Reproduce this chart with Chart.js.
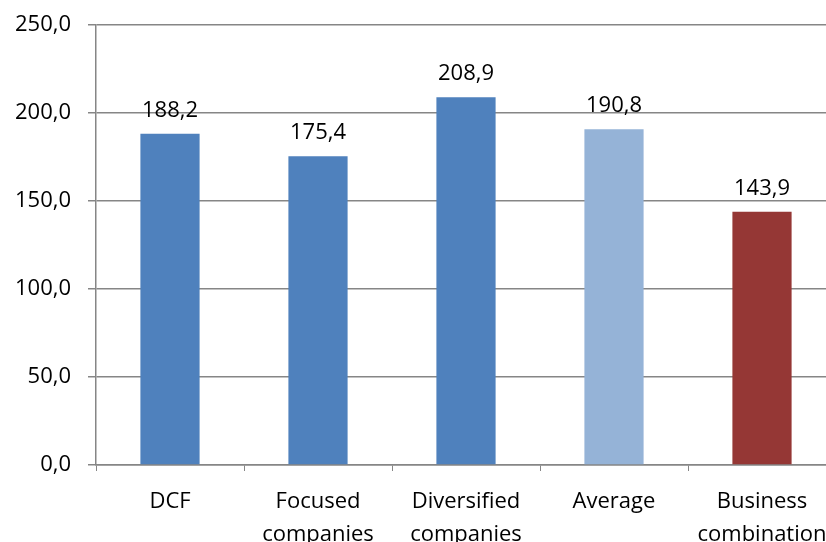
<!DOCTYPE html>
<html>
<head>
<meta charset="utf-8">
<script src="https://cdn.jsdelivr.net/npm/chart.js@4"></script>
<style>
  html, body { margin: 0; padding: 0; background: #fff; overflow: hidden; }
  #wrap { width: 826px; height: 542px; overflow: hidden; }
</style>
</head>
<body>
<div id="wrap"><canvas id="chart" width="850" height="542"></canvas></div>
<script>
const categories = ['DCF', ['Focused', 'companies'], ['Diversified', 'companies'], 'Average', ['Business', 'combination']];
const values = [188.2, 175.4, 208.9, 190.8, 143.9];
const barColors = ['#4F81BD', '#4F81BD', '#4F81BD', '#95B3D7', '#953735'];
const yTicks = [0, 50, 100, 150, 200, 250];

const fmt = v => v.toFixed(1).replace('.', ',');
const FONT = '"Open Sans", Lato, sans-serif';

// Etiquettes de valeur au-dessus des barres
const valueLabels = {
    id: 'valueLabels',
    afterDatasetsDraw(chart) {
        const ctx = chart.ctx;
        const meta = chart.getDatasetMeta(0);
        ctx.save();
        ctx.font = '22px ' + FONT;
        ctx.fillStyle = '#000';
        ctx.textAlign = 'center';
        ctx.textBaseline = 'alphabetic';
        meta.data.forEach((bar, i) => {
            ctx.fillText(fmt(values[i]), bar.x, bar.y - 17);
        });
        ctx.restore();
    }
};

const ctx = document.getElementById('chart').getContext('2d');
const chart = new Chart(ctx, {
    type: 'bar',
    data: {
        labels: categories,
        datasets: [{
            data: values,
            backgroundColor: barColors,
            categoryPercentage: 1,
            barPercentage: 0.4
        }]
    },
    options: {
        responsive: false,
        animation: false,
        layout: { padding: { top: 25, right: 14, bottom: 0, left: 0 } },
        plugins: {
            legend: { display: false },
            tooltip: { enabled: false }
        },
        scales: {
            x: {
                grid: { display: true, drawOnChartArea: false, offset: true, color: '#868686', tickLength: 6 },
                border: { color: '#868686', width: 1.5 },
                ticks: { color: '#000', font: { family: FONT, size: 22, lineHeight: 1.5 }, padding: 14, maxRotation: 0, autoSkip: false },
                afterFit: s => { s.height = 77; s.paddingLeft = 0; s.paddingRight = 0; }
            },
            y: {
                min: 0,
                max: 250,
                afterBuildTicks: s => { s.ticks = yTicks.map(v => ({ value: v })); },
                grid: { color: '#868686', lineWidth: 1.5, tickLength: 8 },
                border: { color: '#868686', width: 1.5 },
                ticks: { color: '#000', font: { family: FONT, size: 22 }, padding: 17, callback: v => fmt(v) },
                afterFit: s => { s.width = 96; s.paddingTop = 0; s.paddingBottom = 0; }
            }
        }
    },
    plugins: [valueLabels]
});
</script>
</body>
</html>
